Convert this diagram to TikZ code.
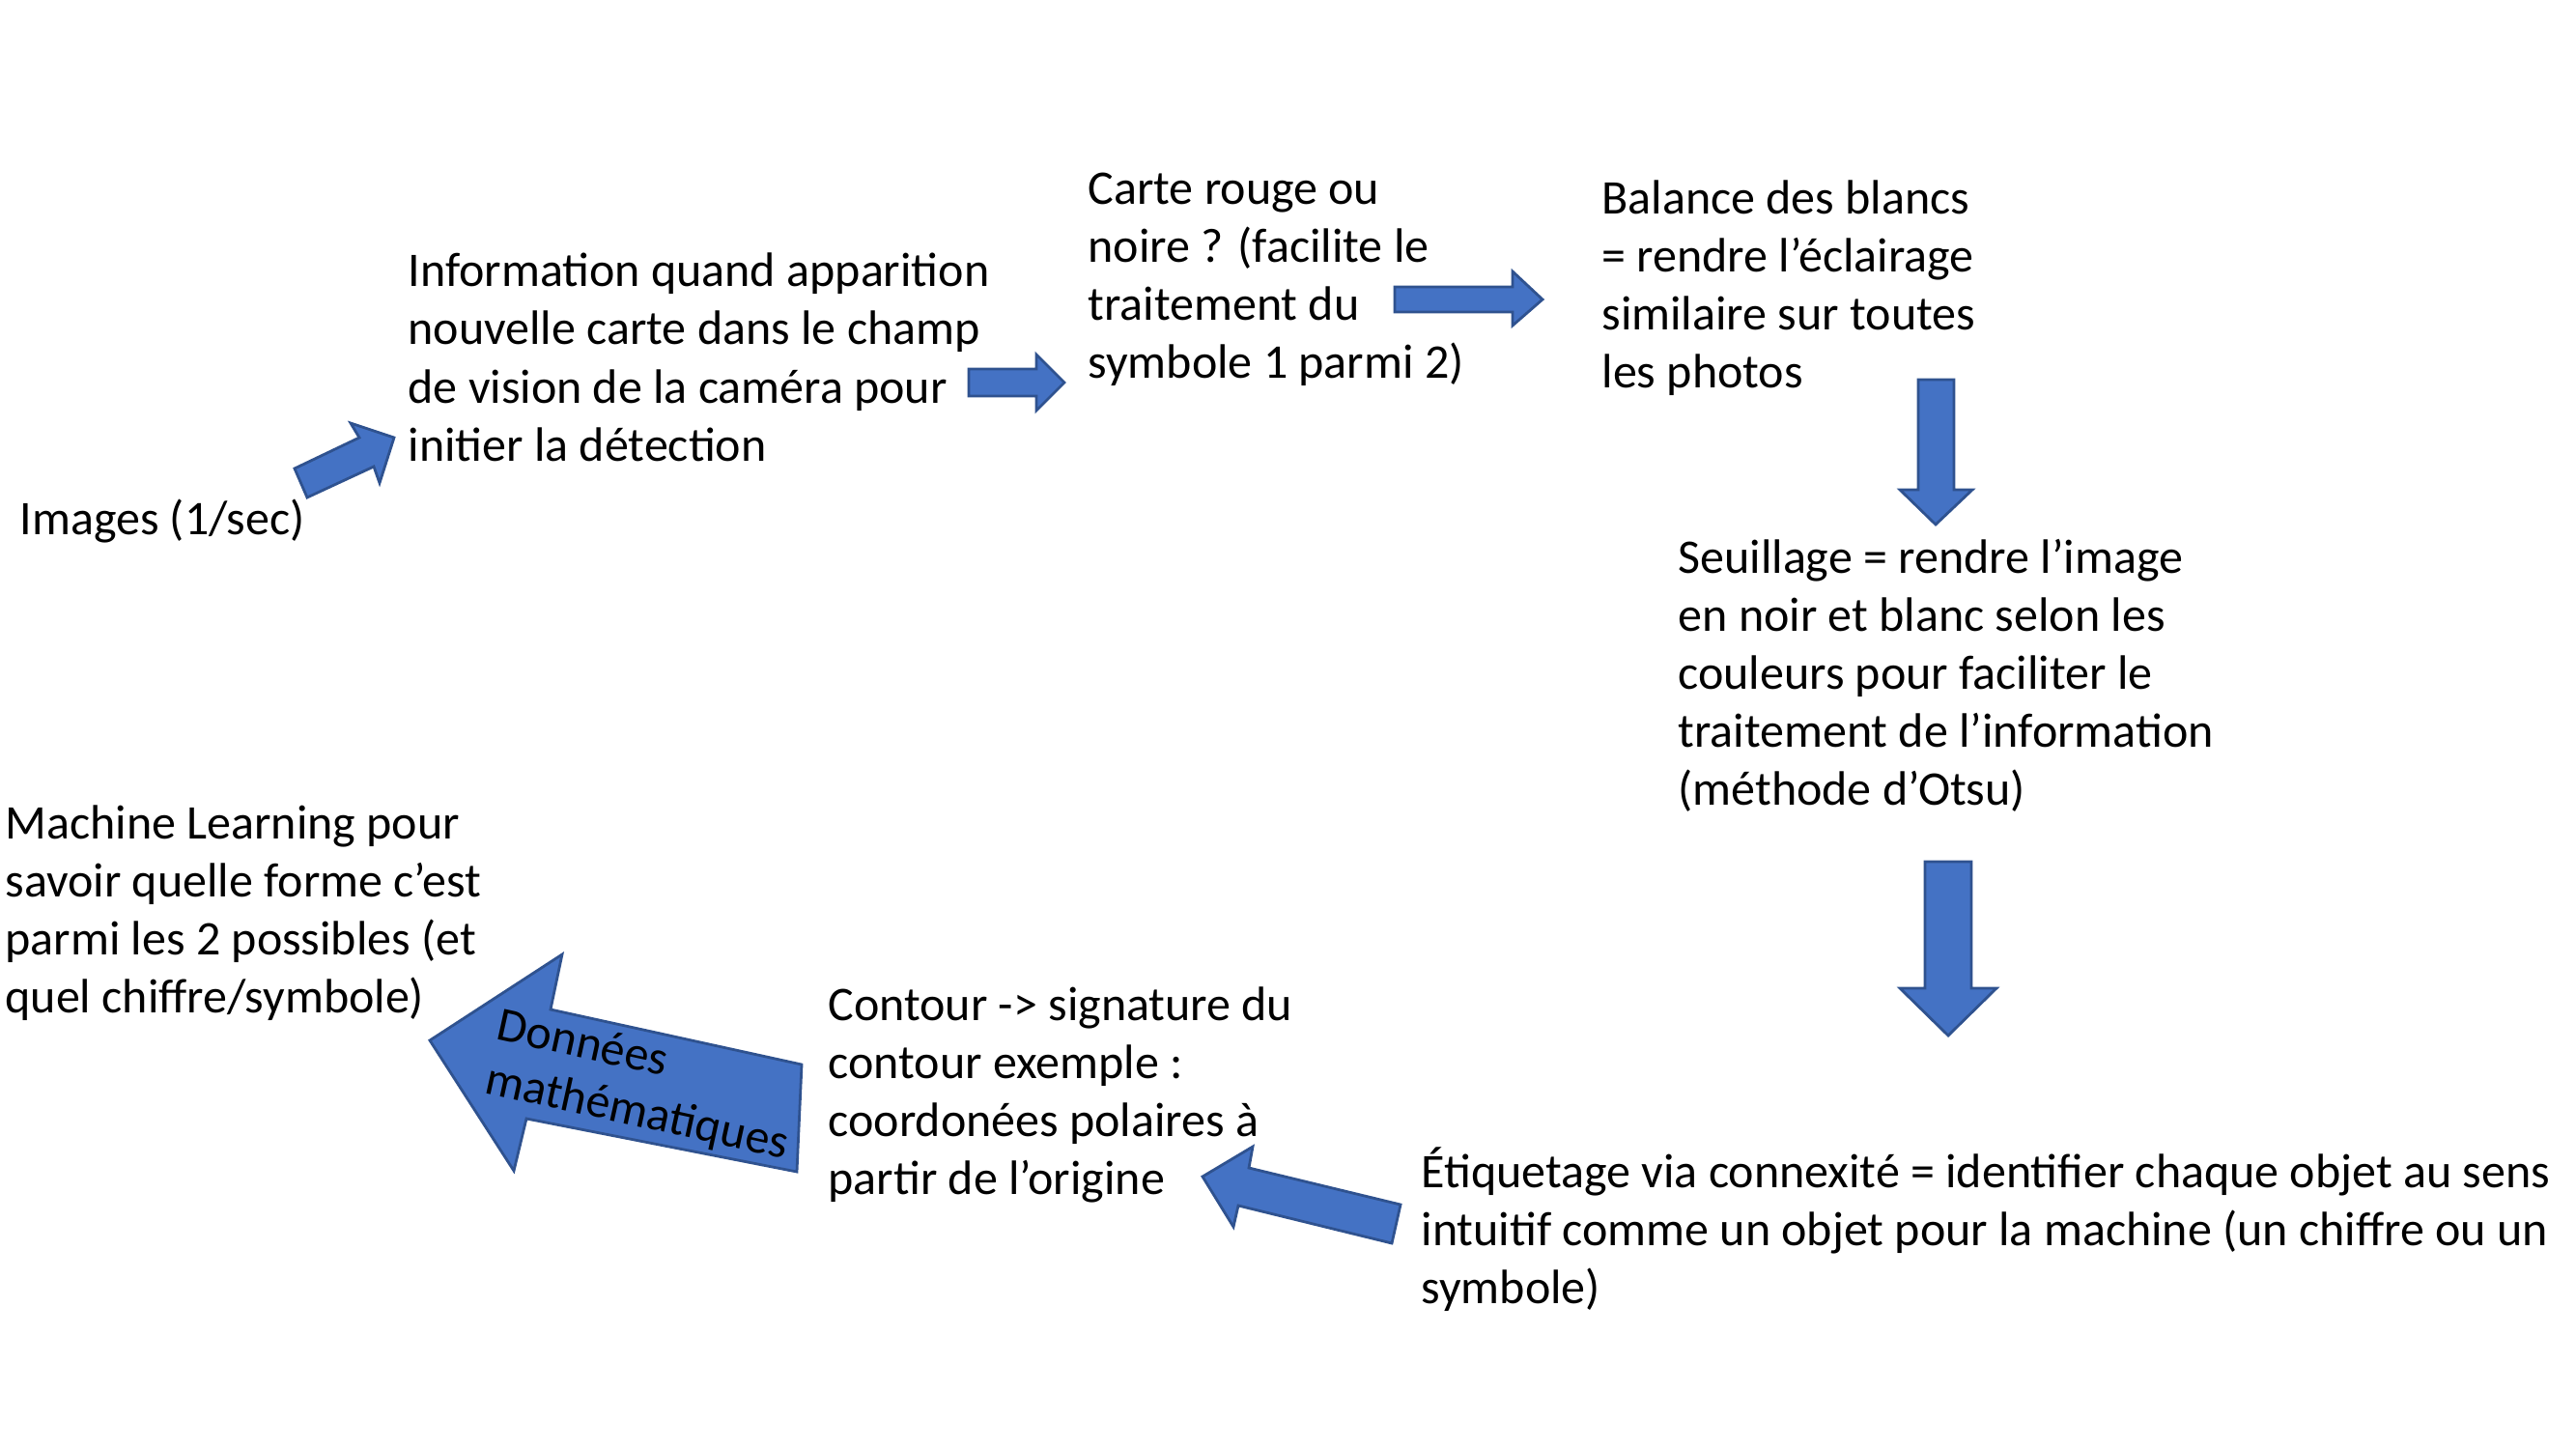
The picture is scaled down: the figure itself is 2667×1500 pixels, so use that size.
\documentclass[tikz,border=0pt]{standalone}
\usepackage{fontspec}
\setmainfont{Carlito}
\definecolor{arrowfill}{HTML}{4472C4}
\definecolor{arrowline}{HTML}{2F528F}
\tikzset{
  blockarrow/.style={fill=arrowfill, draw=arrowline, line width=1pt, line join=miter},
  txt/.style={anchor=base west, inner sep=0pt, align=left, font=\fontsize{18}{21.6}\selectfont}
}
\begin{document}
\begin{tikzpicture}[x=0.36pt,y=-0.36pt]
\useasboundingbox (0,0) rectangle (2667,1500);
% texts (anchor = baseline of the last line)
\node[txt] (images) at (20,553) {Images (1/sec)};
\node[txt] (info) at (422,477) {Information quand apparition\\nouvelle carte dans le champ\\de vision de la caméra pour\\initier la détection};
\node[txt] (carte) at (1126,392) {Carte rouge ou\\noire ? (facilite le\\traitement du\\symbole 1 parmi 2)};
\node[txt] (balance) at (1658,402) {Balance des blancs\\= rendre l’éclairage\\similaire sur toutes\\les photos};
\node[txt] (seuil) at (1737,833) {Seuillage = rendre l’image\\en noir et blanc selon les\\couleurs pour faciliter le\\traitement de l’information\\(méthode d’Otsu)};
\node[txt] (etiq) at (1471,1349) {Étiquetage via connexité = identifier chaque objet au sens\\intuitif comme un objet pour la machine (un chiffre ou un\\symbole)};
\node[txt] (contour) at (857,1236) {Contour -> signature du\\contour exemple :\\coordonées polaires à\\partir de l’origine};
\node[txt] (ml) at (5,1048) {Machine Learning pour\\savoir quelle forme c’est\\parmi les 2 possibles (et\\quel chiffre/symbole)};
% block arrows
\draw[blockarrow] (305,485) -- (372,453) -- (363,438) -- (408,453) -- (393,500) -- (387,483) -- (318,515) -- cycle;
\draw[blockarrow] (1003,382) -- (1073,382) -- (1073,367) -- (1102,396) -- (1073,425) -- (1073,410) -- (1003,410) -- cycle;
\draw[blockarrow] (1444,297) -- (1566,297) -- (1566,281) -- (1597,310) -- (1566,337) -- (1566,323) -- (1444,323) -- cycle;
\draw[blockarrow] (1986,393) -- (2023,393) -- (2023,507) -- (2042,507) -- (2004,543) -- (1967,507) -- (1986,507) -- cycle;
\draw[blockarrow] (1993,892) -- (2041,892) -- (2041,1023) -- (2067,1023) -- (2017,1072) -- (1967,1023) -- (1993,1023) -- cycle;
\draw[blockarrow] (1245,1218) -- (1297,1187) -- (1293,1209) -- (1450,1247) -- (1441,1287) -- (1282,1248) -- (1277,1270) -- cycle;
\draw[blockarrow] (445,1077) -- (582,988) -- (570,1045) -- (830,1102) -- (825,1213) -- (545,1158) -- (532,1212) -- cycle;
\node[anchor=base west, inner sep=0pt, align=left, rotate=-12.4, font=\fontsize{18}{20.5}\selectfont] (donnees) at (500,1131) {Données\\mathématiques};
\end{tikzpicture}
\end{document}
